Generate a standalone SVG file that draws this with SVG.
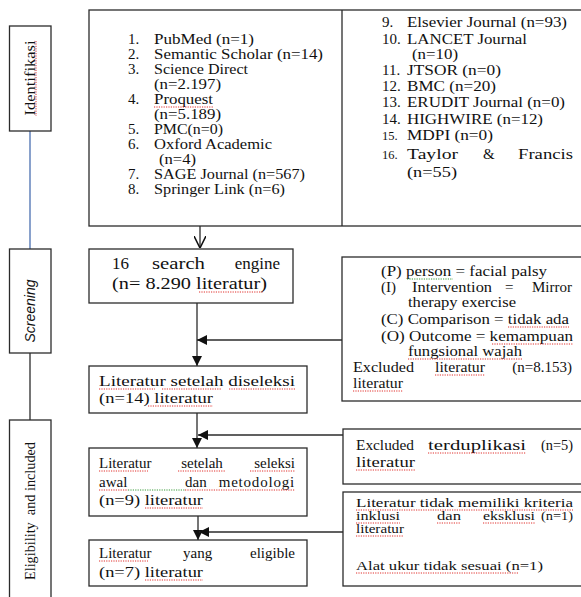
<svg xmlns="http://www.w3.org/2000/svg" width="581" height="597" viewBox="0 0 581 597">
<defs>
<style>
.box{fill:#fff;stroke:#2b2b2b;stroke-width:1.3}
.t{font-family:"Liberation Serif","Times New Roman",serif;font-size:15px;fill:#111}
.s{font-size:12.5px}
.b{font-size:17px}
.c{stroke:#2b2b2b;stroke-width:1.3;fill:none}
.sq{stroke:#e0302c;stroke-width:1;stroke-dasharray:1.2 1.2;fill:none}
.sg{stroke:#3a9a3a;stroke-width:1;stroke-dasharray:1.2 1.2;fill:none}
</style>
<marker id="fa" viewBox="0 0 10 10" refX="10" refY="5" markerWidth="10" markerHeight="10" markerUnits="userSpaceOnUse" orient="auto"><path d="M0,0 L10,5 L0,10 z" fill="#111"/></marker>
<marker id="oa" viewBox="0 0 10 10" refX="10" refY="5" markerWidth="12" markerHeight="12" markerUnits="userSpaceOnUse" orient="auto"><path d="M0,0 L10,5 L0,10" fill="none" stroke="#111" stroke-width="1.3"/></marker>
</defs>
<rect width="581" height="597" fill="#fff"/>

<g id="connectors">
<line x1="30" y1="131" x2="30" y2="249" stroke="#4a6fb0" stroke-width="1.3"/>
<line class="c" x1="30" y1="353" x2="30" y2="420"/>
<line class="c" x1="200" y1="226" x2="200" y2="248" marker-end="url(#oa)"/>
<line class="c" x1="197" y1="303" x2="197" y2="366" marker-end="url(#fa)"/>
<line class="c" x1="342" y1="340" x2="197" y2="340" marker-end="url(#fa)"/>
<line class="c" x1="197" y1="413" x2="197" y2="448" marker-end="url(#fa)"/>
<line class="c" x1="343" y1="435" x2="198" y2="435" marker-end="url(#fa)"/>
<line class="c" x1="198" y1="516" x2="198" y2="540" marker-end="url(#fa)"/>
<line class="c" x1="343" y1="532" x2="199" y2="532" marker-end="url(#fa)"/>
</g>

<g id="stage-identifikasi">
<rect class="box" x="9.5" y="26" width="41.5" height="105"/>
<text class="t" font-size="16" transform="translate(30,78) rotate(-90)" text-anchor="middle" dominant-baseline="central" textLength="75" lengthAdjust="spacingAndGlyphs">Identifikasi</text>
<line class="sq" x1="36" y1="41" x2="36" y2="116"/>
</g>

<g id="stage-screening">
<rect class="box" x="9.5" y="249" width="41.5" height="104"/>
<text transform="translate(30,311) rotate(-90)" text-anchor="middle" dominant-baseline="central" font-family="'Liberation Sans',Arial,sans-serif" font-style="italic" font-size="14" fill="#111">Screening</text>
</g>

<g id="stage-eligibility">
<rect class="box" x="9.5" y="420" width="41.5" height="190"/>
<text class="t" transform="translate(30,511) rotate(-90)" text-anchor="middle" dominant-baseline="central" textLength="138" lengthAdjust="spacingAndGlyphs" xml:space="preserve">Eligibility  and included</text>
</g>

<g id="sources">
<rect class="box" x="89" y="10" width="495" height="216"/>
<line class="c" x1="342" y1="10" x2="342" y2="226"/>
<g class="t">
<text x="128" y="44">1.</text><text x="154" y="44" textLength="100" lengthAdjust="spacingAndGlyphs">PubMed (n=1)</text>
<text x="128" y="59">2.</text><text x="154" y="59" textLength="169" lengthAdjust="spacingAndGlyphs">Semantic Scholar (n=14)</text>
<text x="128" y="74">3.</text><text x="154" y="74" textLength="94" lengthAdjust="spacingAndGlyphs">Science Direct</text>
<text x="154" y="89" textLength="67" lengthAdjust="spacingAndGlyphs">(n=2.197)</text>
<text x="128" y="104">4.</text><text x="154" y="104" textLength="59" lengthAdjust="spacingAndGlyphs">Proquest</text>
<text x="154" y="119" textLength="67" lengthAdjust="spacingAndGlyphs">(n=5.189)</text>
<text x="128" y="134">5.</text><text x="154" y="134" textLength="69" lengthAdjust="spacingAndGlyphs">PMC(n=0)</text>
<text x="128" y="149">6.</text><text x="154" y="149" textLength="118" lengthAdjust="spacingAndGlyphs">Oxford Academic</text>
<text x="159" y="164" textLength="37" lengthAdjust="spacingAndGlyphs">(n=4)</text>
<text x="128" y="179">7.</text><text x="154" y="179" textLength="151" lengthAdjust="spacingAndGlyphs">SAGE Journal (n=567)</text>
<text x="128" y="194">8.</text><text x="154" y="194" textLength="131" lengthAdjust="spacingAndGlyphs">Springer Link (n=6)</text>

<text x="382" y="27">9.</text><text x="407" y="27" textLength="160" lengthAdjust="spacingAndGlyphs">Elsevier Journal (n=93)</text>
<text x="382" y="44">10.</text><text x="407" y="44" textLength="120" lengthAdjust="spacingAndGlyphs">LANCET Journal</text>
<text x="412" y="59" textLength="46" lengthAdjust="spacingAndGlyphs">(n=10)</text>
<text x="382" y="75">11.</text><text x="407" y="75" textLength="94" lengthAdjust="spacingAndGlyphs">JTSOR (n=0)</text>
<text x="382" y="91">12.</text><text x="407" y="91" textLength="89" lengthAdjust="spacingAndGlyphs">BMC (n=20)</text>
<text x="382" y="107">13.</text><text x="407" y="107" textLength="158" lengthAdjust="spacingAndGlyphs">ERUDIT Journal (n=0)</text>
<text x="382" y="124">14.</text><text x="407" y="124" textLength="136" lengthAdjust="spacingAndGlyphs">HIGHWIRE (n=12)</text>
<text x="382" y="140" class="s">15.</text><text x="407" y="140" textLength="86" lengthAdjust="spacingAndGlyphs">MDPI (n=0)</text>
<text x="382" y="159" class="s">16.</text><text x="407" y="159" textLength="51" lengthAdjust="spacingAndGlyphs">Taylor</text><text x="483" y="159">&amp;</text><text x="573" y="159" text-anchor="end" textLength="55" lengthAdjust="spacingAndGlyphs">Francis</text>
<text x="407" y="177" textLength="50" lengthAdjust="spacingAndGlyphs">(n=55)</text>
</g>
<line class="sq" x1="154" y1="107" x2="213" y2="107"/>
</g>

<g id="search-engine">
<rect class="box" x="89" y="249" width="204" height="54"/>
<g class="t b">
<text x="112" y="269">16</text><text x="152" y="269" textLength="53" lengthAdjust="spacingAndGlyphs">search</text><text x="280" y="269" text-anchor="end">engine</text>
<text x="112" y="289" textLength="155" lengthAdjust="spacingAndGlyphs">(n= 8.290 literatur)</text>
</g>
<line class="sq" x1="199" y1="292" x2="263" y2="292"/>
</g>

<g id="pico">
<rect class="box" x="342" y="257" width="242" height="144"/>
<g class="t">
<text x="381" y="276" textLength="166" lengthAdjust="spacingAndGlyphs">(P) person = facial palsy</text>
<text x="381" y="292">(I)</text><text x="412" y="292" textLength="80" lengthAdjust="spacingAndGlyphs">Intervention</text><text x="505" y="292">=</text><text x="572" y="292" text-anchor="end">Mirror</text>
<text x="408" y="307" textLength="108" lengthAdjust="spacingAndGlyphs">therapy exercise</text>
<text x="381" y="324" textLength="188" lengthAdjust="spacingAndGlyphs">(C) Comparison = tidak ada</text>
<text x="381" y="341" textLength="192" lengthAdjust="spacingAndGlyphs">(O) Outcome = kemampuan</text>
<text x="408" y="356" textLength="114" lengthAdjust="spacingAndGlyphs">fungsional wajah</text>
<text x="353" y="372" textLength="61" lengthAdjust="spacingAndGlyphs">Excluded</text><text x="435" y="372" textLength="50" lengthAdjust="spacingAndGlyphs">literatur</text><text x="572" y="372" text-anchor="end">(n=8.153)</text>
<text x="353" y="388" textLength="50" lengthAdjust="spacingAndGlyphs">literatur</text>
</g>
<line class="sg" x1="407" y1="279" x2="453" y2="279"/>
<line class="sq" x1="508" y1="327" x2="569" y2="327"/>
<line class="sq" x1="492" y1="344" x2="573" y2="344"/>
<line class="sq" x1="408" y1="359" x2="522" y2="359"/>
<line class="sq" x1="435" y1="375" x2="485" y2="375"/>
<line class="sq" x1="353" y1="391" x2="403" y2="391"/>
</g>

<g id="after-screening">
<rect class="box" x="89" y="366" width="218" height="47"/>
<g class="t">
<text x="99" y="386" textLength="196" lengthAdjust="spacingAndGlyphs">Literatur setelah diseleksi</text>
<text x="99" y="403" textLength="114" lengthAdjust="spacingAndGlyphs">(n=14) literatur</text>
</g>
<line class="sq" x1="99" y1="389" x2="155" y2="389"/>
<line class="sq" x1="162" y1="389" x2="222" y2="389"/>
<line class="sq" x1="229" y1="389" x2="295" y2="389"/>
<line class="sq" x1="148" y1="406" x2="213" y2="406"/>
</g>

<g id="after-method">
<rect class="box" x="89" y="448" width="218" height="68"/>
<g class="t">
<text x="99" y="468">Literatur</text><text x="202" y="468" text-anchor="middle">setelah</text><text x="295" y="468" text-anchor="end">seleksi</text>
<text x="99" y="487">awal</text><text x="185" y="487">dan</text><text x="295" y="487" text-anchor="end" letter-spacing="0.8">metodologi</text>
<text x="99" y="505" textLength="104" lengthAdjust="spacingAndGlyphs">(n=9) literatur</text>
</g>
<line class="sq" x1="99" y1="471" x2="148" y2="471"/>
<line class="sq" x1="178" y1="471" x2="226" y2="471"/>
<line class="sq" x1="250" y1="471" x2="295" y2="471"/>
<line class="sq" x1="99" y1="490" x2="128" y2="490"/>
<line class="sg" x1="128" y1="490" x2="185" y2="490"/>
<line class="sq" x1="185" y1="490" x2="295" y2="490"/>
<line class="sq" x1="145" y1="508" x2="203" y2="508"/>
</g>

<g id="eligible">
<rect class="box" x="89" y="540" width="218" height="46"/>
<g class="t">
<text x="99" y="558">Literatur</text><text x="183" y="558">yang</text><text x="295" y="558" text-anchor="end">eligible</text>
<text x="99" y="577" textLength="104" lengthAdjust="spacingAndGlyphs">(n=7) literatur</text>
</g>
<line class="sq" x1="99" y1="561" x2="148" y2="561"/>
<line class="sq" x1="145" y1="580" x2="203" y2="580"/>
</g>

<g id="excluded-duplicate">
<rect class="box" x="343" y="429" width="241" height="55"/>
<g class="t" font-size="14">
<text x="356" y="450" textLength="58" lengthAdjust="spacingAndGlyphs">Excluded</text><text x="428" y="450" textLength="98" lengthAdjust="spacingAndGlyphs">terduplikasi</text><text x="573" y="450" text-anchor="end" textLength="32" lengthAdjust="spacingAndGlyphs">(n=5)</text>
<text x="356" y="467" textLength="59" lengthAdjust="spacingAndGlyphs">literatur</text>
</g>
<line class="sq" x1="428" y1="453" x2="526" y2="453"/>
<line class="sq" x1="356" y1="470" x2="415" y2="470"/>
</g>

<g id="excluded-criteria">
<rect class="box" x="343" y="492" width="241" height="94"/>
<g class="t s">
<text x="356" y="507" textLength="217" lengthAdjust="spacingAndGlyphs">Literatur tidak memiliki kriteria</text>
<text x="356" y="520" textLength="44" lengthAdjust="spacingAndGlyphs">inklusi</text><text x="437" y="520" textLength="24" lengthAdjust="spacingAndGlyphs">dan</text><text x="483" y="520" textLength="52" lengthAdjust="spacingAndGlyphs">eksklusi</text><text x="573" y="520" text-anchor="end" textLength="32" lengthAdjust="spacingAndGlyphs">(n=1)</text>
<text x="356" y="533" textLength="48" lengthAdjust="spacingAndGlyphs">literatur</text>
<text x="356" y="570" textLength="187" lengthAdjust="spacingAndGlyphs">Alat ukur tidak sesuai (n=1)</text>
</g>
<line class="sq" x1="356" y1="510" x2="573" y2="510"/>
<line class="sq" x1="356" y1="523" x2="400" y2="523"/>
<line class="sq" x1="437" y1="523" x2="461" y2="523"/>
<line class="sq" x1="483" y1="523" x2="535" y2="523"/>
<line class="sq" x1="356" y1="536" x2="404" y2="536"/>
<line class="sq" x1="356" y1="573" x2="518" y2="573"/>
</g>
</svg>
